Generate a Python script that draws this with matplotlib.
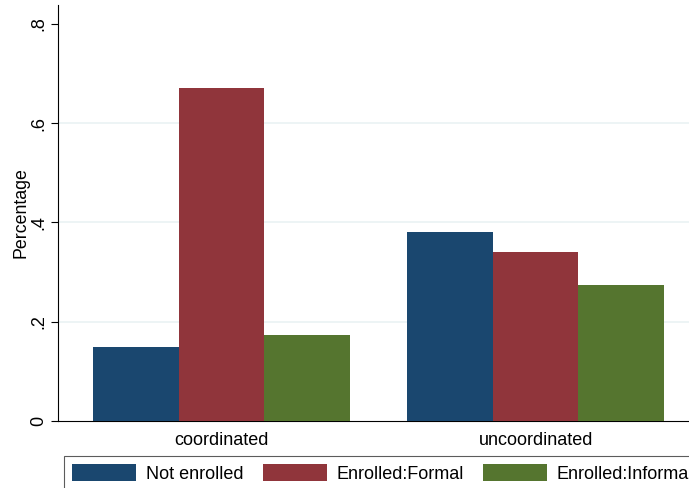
import matplotlib.pyplot as plt
import numpy as np

plt.rcParams['font.family'] = ['Liberation Sans', 'DejaVu Sans']

groups = ["coordinated", "uncoordinated"]
series = ["Not enrolled", "Enrolled:Formal", "Enrolled:Informal"]
not_enrolled = [0.15, 0.381]
formal = [0.670, 0.340]
informal = [0.174, 0.273]
colors = ["#1a476f", "#90353b", "#55752f"]
yticks = [0, 0.2, 0.4, 0.6, 0.8]
yticklabels = ["0", ".2", ".4", ".6", ".8"]

fig = plt.figure(figsize=(6.89, 4.88), dpi=100)
ax = fig.add_axes([58 / 689, 67 / 488, 641 / 689, 416 / 488])

x = np.arange(len(groups))
w = 0.273
for i, (vals, c, lab) in enumerate(zip([not_enrolled, formal, informal], colors, series)):
    ax.bar(x + (i - 1) * w, vals, width=w, color=c, label=lab, zorder=3)

ax.set_xlim(-0.52, 1.52)
ax.set_ylim(0, 0.838)
ax.set_xticks(x)
ax.set_xticklabels(groups, fontsize=13)
ax.tick_params(axis='x', length=0, pad=8)
ax.set_yticks(yticks)
ax.set_yticklabels(yticklabels, rotation=90, va='center', fontsize=13)
ax.tick_params(axis='y', length=5, width=0.8, pad=3)
ax.set_ylabel("Percentage", fontsize=12.8, labelpad=0)

ax.yaxis.grid(True, color="#eaf2f3", linewidth=1.2, zorder=0)
gl = ax.get_ygridlines()
gl[0].set_visible(False)
gl[-1].set_visible(False)

for s in ["top", "right"]:
    ax.spines[s].set_visible(False)
ax.spines["left"].set_linewidth(0.8)
ax.spines["bottom"].set_linewidth(0.8)

# legend runs past the right/bottom edge, as in the original export
handles, labels = ax.get_legend_handles_labels()
leg = fig.legend(handles, labels, ncol=3, loc='upper left',
                 bbox_to_anchor=(64 / 689, 1 - 456 / 488), borderaxespad=0,
                 fontsize=13, handlelength=3.55, handleheight=1.05,
                 handletextpad=0.55, columnspacing=1.05, borderpad=0.45,
                 fancybox=False, frameon=True)
leg.get_frame().set_edgecolor("#333333")
leg.get_frame().set_linewidth(0.8)

fig.savefig("out.png", dpi=100)
